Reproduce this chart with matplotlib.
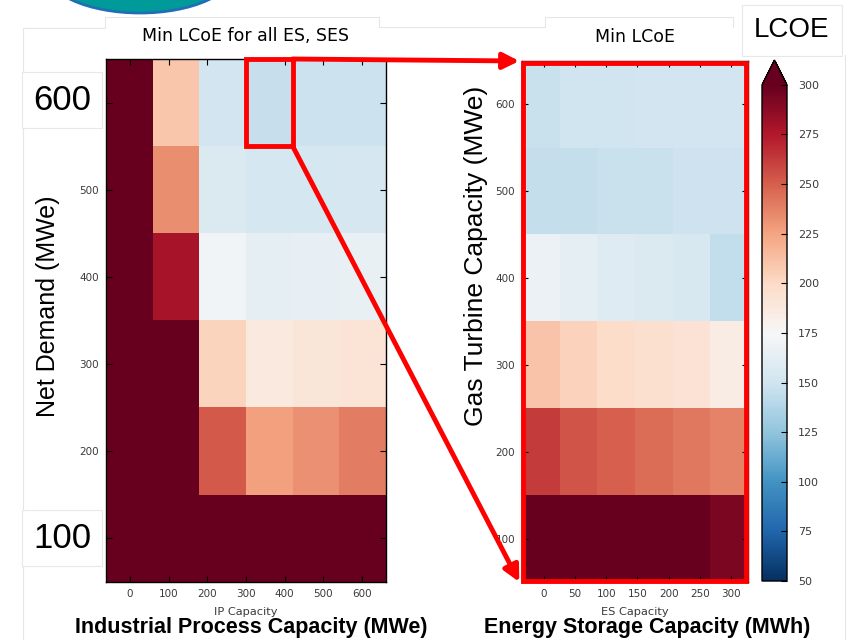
import matplotlib
matplotlib.use('Agg')
import matplotlib.pyplot as plt
from matplotlib.patches import Rectangle, Ellipse, ConnectionPatch

W, H = 856, 640

ip_ticks = [0, 100, 200, 300, 400, 500, 600]
es_ticks = [0, 50, 100, 150, 200, 250, 300]
demand_ticks = [100, 200, 300, 400, 500, 600]
gt_ticks = [100, 200, 300, 400, 500, 600]
cbar_ticks = [50, 75, 100, 125, 150, 175, 200, 225, 250, 275, 300]
# demand ticks that the slide covers with its own big labels
big_ticks = [600, 100]

# min LCoE over all ES / SES, rows from 600 MWe (top) down to 100 MWe
lcoe_all = [
    [320, 210, 151, 146, 148, 148],
    [320, 233, 157, 153, 153, 154],
    [320, 278, 172, 163, 165, 166],
    [320, 320, 203, 187, 190, 192],
    [320, 320, 252, 226, 232, 239],
    [320, 320, 320, 320, 320, 320],
]
# min LCoE for IP = 300 MWe, rows from 600 MWe (top) down to 100 MWe
lcoe_es = [
    [147, 150, 150, 151, 151, 151],
    [145, 145, 147, 147, 149, 149],
    [168, 164, 159, 157, 155, 144],
    [211, 204, 198, 195, 193, 184],
    [262, 254, 250, 245, 241, 237],
    [320, 320, 320, 320, 320, 293],
]
zoom_row, zoom_col = 0, 3


def px(x, y):
    return x / W, 1 - y / H


def setup(ax, xticks, yticks, lpad, rpad):
    step = xticks[1] - xticks[0]
    ax.set_xlim(xticks[0] - lpad * step, xticks[-1] + rpad * step)
    ax.set_ylim(50, 650)
    ax.set_xticks(xticks)
    ax.set_yticks(yticks)
    ax.tick_params(direction='in', top=True, right=True, length=4, width=0.8,
                   labelsize=7.5, labelcolor='#3a3a3a', pad=5)
    for s in ax.spines.values():
        s.set_linewidth(1)


fig = plt.figure(figsize=(W / 100, H / 100), dpi=100)

# faint slide background bits
bg = fig.add_axes([0, 0, 1, 1], zorder=-1)
bg.set_xlim(0, W)
bg.set_ylim(H, 0)
bg.axis('off')
bg.plot([23, 23, 105, 105, 379, 379, 545, 545, 733, 733],
        [640, 28, 28, 17, 17, 27, 27, 17, 17, 27], color='#e6e6e6', lw=0.8)
bg.plot([845, 845], [55, 640], color='#e6e6e6', lw=0.8)
bg.add_patch(Ellipse((140, -30), 190, 86, facecolor='#009a9a',
                     edgecolor='#1f6fb5', lw=2))

# left heatmap
ax1 = fig.add_axes([106 / W, 1 - 582 / H, 280 / W, 523 / H])
setup(ax1, ip_ticks, demand_ticks, 0.62, 0.62)
ax1.set_yticklabels(['' if v in big_ticks else str(v) for v in demand_ticks])
x0, x1 = ax1.get_xlim()
im = ax1.imshow(lcoe_all, cmap='RdBu_r', vmin=50, vmax=300, aspect='auto',
                interpolation='nearest', extent=(x0, x1, 50, 650), origin='upper')
ax1.set_title('Min LCoE for all ES, SES', fontsize=12.5, pad=13)
ax1.set_xlabel('IP Capacity', fontsize=8.2, color='#3a3a3a', labelpad=6)

# right heatmap
ax2 = fig.add_axes([522 / W, 1 - 582 / H, 226 / W, 521 / H])
setup(ax2, es_ticks, gt_ticks, 0.71, 0.55)
e0, e1 = ax2.get_xlim()
ax2.imshow(lcoe_es, cmap='RdBu_r', vmin=50, vmax=300, aspect='auto',
           interpolation='nearest', extent=(e0, e1, 50, 650), origin='upper')
ax2.set_title('Min LCoE', fontsize=12.5, pad=14)
ax2.set_xlabel('ES Capacity', fontsize=8.2, color='#3a3a3a', labelpad=6)

# colorbar
cax = fig.add_axes([762 / W, 1 - 581 / H, 25 / W, 521 / H])
cb = fig.colorbar(im, cax=cax, extend='max', ticks=cbar_ticks)
cb.ax.tick_params(direction='in', length=4, width=0.8, labelsize=8,
                  labelcolor='#3a3a3a', pad=8)
cb.outline.set_linewidth(1)

# zoom box + arrows
red = '#ff0000'
ncol = len(lcoe_all[0])
cw = (x1 - x0) / ncol
rh = 600 / len(lcoe_all)
bx = x0 + zoom_col * cw
by = 650 - (zoom_row + 1) * rh
ax1.add_patch(Rectangle((bx, by), cw, rh, fill=False, ec=red, lw=3.5,
                        clip_on=False, zorder=5))
ax2.add_patch(Rectangle((0.005, 0.002), 0.985, 0.994, transform=ax2.transAxes,
                        fill=False, ec=red, lw=3.5, clip_on=False, zorder=5))
for ya, yb in [(by + rh, 1), (by, 0)]:
    con = ConnectionPatch(xyA=(bx + cw, ya), coordsA=ax1.transData,
                          xyB=(-0.012, yb), coordsB=ax2.transAxes,
                          arrowstyle='-|>', mutation_scale=24, color=red,
                          lw=3.5, shrinkA=0, shrinkB=0, zorder=6)
    fig.add_artist(con)

# slide overlay text
box = dict(facecolor='white', edgecolor='#e8e8e8', lw=0.8, pad=8)
fig.text(*px(62, 100), '600', fontsize=25, family='Liberation Sans',
         ha='center', va='center', bbox=box)
fig.text(*px(62, 538), '100', fontsize=25, family='Liberation Sans',
         ha='center', va='center', bbox=box)
fig.text(*px(792, 30), 'LCOE', fontsize=20, family='Liberation Sans',
         ha='center', va='center',
         bbox=dict(facecolor='white', edgecolor='#e8e8e8', lw=0.8, pad=9))
fig.text(*px(48, 306), 'Net Demand (MWe)', fontsize=18,
         family='Liberation Sans', rotation=90, ha='center', va='center')
fig.text(*px(476, 256), 'Gas Turbine Capacity (MWe)', fontsize=19,
         family='Liberation Sans', rotation=90, ha='center', va='center')
fig.text(*px(251, 628), 'Industrial Process Capacity (MWe)', fontsize=15.5,
         family='Liberation Sans', weight='bold', ha='center', va='center')
fig.text(*px(647, 628), 'Energy Storage Capacity (MWh)', fontsize=15.5,
         family='Liberation Sans', weight='bold', ha='center', va='center')

fig.savefig('out.png', dpi=100, facecolor='white')
